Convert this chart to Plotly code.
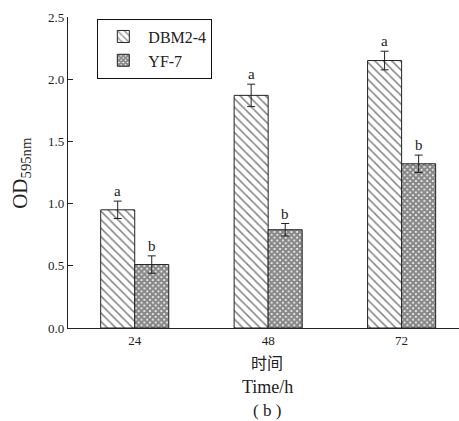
import plotly.graph_objects as go

categories = ["24", "48", "72"]
series_names = ["DBM2-4", "YF-7"]
dbm_values = [0.95, 1.87, 2.15]
dbm_errors = [0.07, 0.09, 0.075]
yf_values = [0.51, 0.79, 1.32]
yf_errors = [0.07, 0.05, 0.07]
dbm_letters = ["a", "a", "a"]
yf_letters = ["b", "b", "b"]
y_ticks = [0.0, 0.5, 1.0, 1.5, 2.0, 2.5]

xpos = list(range(len(categories)))
serif = "Times New Roman"
line_col = "#222222"

fig = go.Figure()
fig.add_trace(go.Bar(
    x=xpos, y=dbm_values, name=series_names[0],
    marker=dict(color="white", line=dict(color=line_col, width=1),
                pattern=dict(shape="\\", fgcolor="#000000", bgcolor="white", size=6, solidity=0.25)),
    error_y=dict(type="data", array=dbm_errors, color=line_col, thickness=1, width=4),
))
fig.add_trace(go.Bar(
    x=xpos, y=yf_values, name=series_names[1],
    marker=dict(color="white", line=dict(color=line_col, width=1),
                pattern=dict(shape="x", fgcolor="#111111", bgcolor="white", size=4, solidity=0.8)),
    error_y=dict(type="data", array=yf_errors, color=line_col, thickness=1, width=4),
))

bargap = 0.49
half = (1 - bargap) / 4
annotations = []
for i in xpos:
    annotations.append(dict(x=i - half, y=dbm_values[i] + dbm_errors[i], text=dbm_letters[i],
                            showarrow=False, yanchor="bottom", yshift=0,
                            font=dict(family=serif, size=15, color="#222")))
    annotations.append(dict(x=i + half, y=yf_values[i] + yf_errors[i], text=yf_letters[i],
                            showarrow=False, yanchor="bottom", yshift=0,
                            font=dict(family=serif, size=15, color="#222")))

annotations += [
    dict(xref="paper", yref="paper", x=-0.122, y=0.5, text="OD<sub>595nm</sub>", textangle=-90,
         showarrow=False, xanchor="center", yanchor="middle",
         font=dict(family=serif, size=21, color="#222")),
    dict(xref="paper", yref="paper", x=0.51, y=-0.11, text="时间", showarrow=False,
         yanchor="middle", font=dict(family="Noto Sans CJK SC", size=16, color="#222")),
    dict(xref="paper", yref="paper", x=0.51, y=-0.19, text="Time/h", showarrow=False,
         yanchor="middle", font=dict(family=serif, size=18, color="#222")),
    dict(xref="paper", yref="paper", x=0.51, y=-0.264, text="( b )", showarrow=False,
         yanchor="middle", font=dict(family=serif, size=17, color="#222")),
]

fig.update_layout(
    width=459, height=421,
    margin=dict(l=68, r=0, t=17, b=92.5),
    paper_bgcolor="white", plot_bgcolor="white",
    barmode="group", bargap=bargap, bargroupgap=0,
    showlegend=True,
    legend=dict(x=0.075, y=0.995, xanchor="left", yanchor="top",
                bordercolor="#111", borderwidth=1, bgcolor="white",
                font=dict(family=serif, size=16, color="#222"),
                itemwidth=40, tracegroupgap=0),
    xaxis=dict(range=[-0.5, 2.43], tickvals=xpos, ticktext=categories, showgrid=False,
               showline=True, linecolor=line_col, linewidth=1.2, ticks="", zeroline=False,
               tickfont=dict(family=serif, size=13, color="#222")),
    yaxis=dict(range=[0, 2.5], tickvals=y_ticks, ticktext=[f"{v:.1f}" for v in y_ticks],
               showgrid=False, showline=True, linecolor=line_col, linewidth=1.2,
               ticks="inside", ticklen=5, tickcolor=line_col, zeroline=False,
               tickfont=dict(family=serif, size=13, color="#222")),
    annotations=annotations,
)

fig.write_html("out.html")
